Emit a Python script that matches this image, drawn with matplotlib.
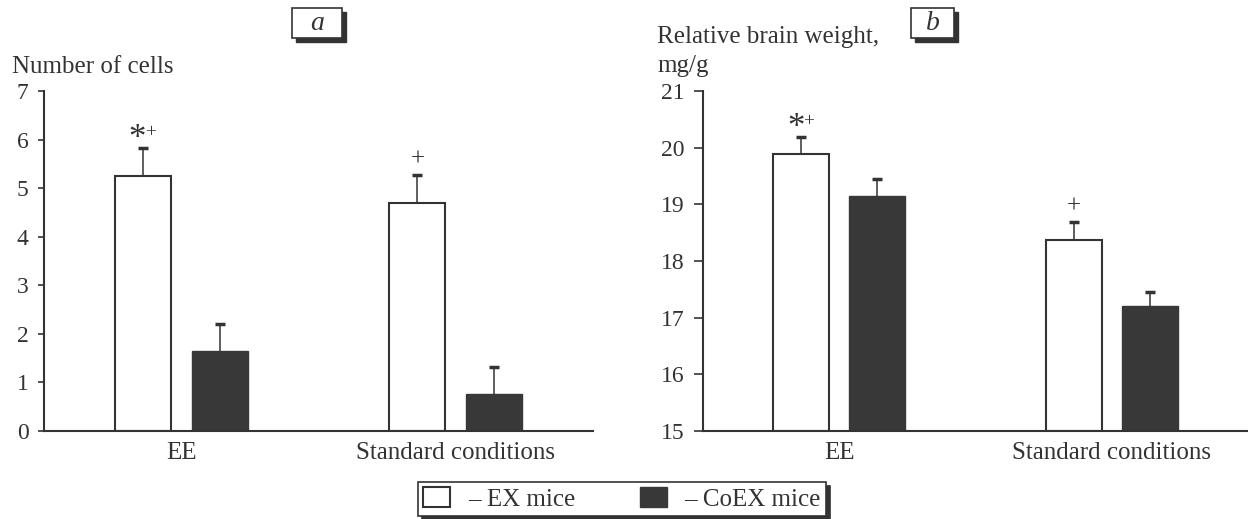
import numpy as np
import matplotlib
matplotlib.use("Agg")
import matplotlib.pyplot as plt
from matplotlib.patches import Rectangle

plt.rcParams['font.family'] = ['Liberation Serif', 'DejaVu Serif']

groups = ['EE', 'Standard conditions']
series = ['– EX mice', '– CoEX mice']

cells_ex = [5.26, 4.69]
cells_ex_err = [0.57, 0.59]
cells_coex = [1.65, 0.76]
cells_coex_err = [0.56, 0.56]
cells_marks_ex = ['*+', '+']

brain_ex = [19.88, 18.37]
brain_ex_err = [0.31, 0.32]
brain_coex = [19.15, 17.21]
brain_coex_err = [0.30, 0.24]
brain_marks_ex = ['*+', '+']

ink = '#333333'
dark = '#383838'
W, H = 1248, 519

fig = plt.figure(figsize=(W / 100, H / 100), dpi=100)


def px(x0, y0, x1, y1):
    # pixel box (top-left origin) -> figure fraction rect
    return [x0 / W, 1 - y1 / H, (x1 - x0) / W, (y1 - y0) / H]


def panel(rect, ex, ex_err, coex, coex_err, marks, ylim, ticks, ticklen):
    ax = fig.add_axes(rect)
    x = np.arange(len(groups))
    off, w = 0.14, 0.205
    ax.errorbar(x - off, ex, yerr=ex_err, fmt='none', ecolor=ink,
                elinewidth=1.1, capsize=3.5, capthick=2.5, zorder=1)
    ax.errorbar(x + off, coex, yerr=coex_err, fmt='none', ecolor=ink,
                elinewidth=1.1, capsize=3.5, capthick=2.5, zorder=1)
    b1 = ax.bar(x - off, np.array(ex) - ylim[0], w, bottom=ylim[0],
                color='white', edgecolor=ink, linewidth=1.5, zorder=2)
    b2 = ax.bar(x + off, np.array(coex) - ylim[0], w, bottom=ylim[0],
                color=dark, edgecolor=dark, linewidth=1.0, zorder=2)
    for xi, top, m in zip(x - off, np.array(ex) + np.array(ex_err), marks):
        if m.startswith('*'):
            ax.annotate('*', (xi, top), xytext=(-4, -6), textcoords='offset points',
                        ha='center', va='bottom', fontsize=25, color=ink)
            ax.annotate('+', (xi, top), xytext=(5.5, 5), textcoords='offset points',
                        ha='center', va='bottom', fontsize=14, color=ink)
        else:
            ax.annotate('+', (xi, top), xytext=(0, 3), textcoords='offset points',
                        ha='center', va='bottom', fontsize=18, color=ink)
    ax.set_xlim(-0.5, 1.5)
    ax.set_ylim(*ylim)
    ax.set_yticks(ticks)
    ax.set_xticks(x)
    ax.set_xticklabels(groups)
    for s in ['top', 'right']:
        ax.spines[s].set_visible(False)
    for s in ['left', 'bottom']:
        ax.spines[s].set_color(ink)
        ax.spines[s].set_linewidth(1.5)
    ax.tick_params(axis='y', length=ticklen, width=1.2, color=ink, labelcolor=ink,
                   labelsize=17, pad=7)
    ax.tick_params(axis='x', length=0, labelcolor=ink, labelsize=18, pad=8)
    ax.set_facecolor('none')
    return ax, b1, b2


ax1, b1, b2 = panel(px(44, 91, 593, 431), cells_ex, cells_ex_err, cells_coex,
                    cells_coex_err, cells_marks_ex, (0, 7), range(0, 8), 4)
ax2, _, _ = panel(px(703, 91, 1248, 431), brain_ex, brain_ex_err, brain_coex,
                  brain_coex_err, brain_marks_ex, (15, 21), range(15, 22), 6.5)

fig.text(12 / W, 1 - 73 / H, 'Number of cells', fontsize=18, color=ink, va='baseline')
fig.text(657 / W, 1 - 43 / H, 'Relative brain weight,', fontsize=18, color=ink,
         va='baseline')
fig.text(657 / W, 1 - 72 / H, 'mg/g', fontsize=18, color=ink, va='baseline')

# panel letters in shadowed boxes
for (x0, x1), letter in [((292, 342), 'a'), ((911, 954), 'b')]:
    fig.patches.append(Rectangle(px(x0 + 4, 12, x1 + 4, 42)[:2], (x1 - x0) / W, 30 / H,
                                 transform=fig.transFigure, color=ink, zorder=1))
    fig.patches.append(Rectangle(px(x0, 8, x1, 38)[:2], (x1 - x0) / W, 30 / H,
                                 transform=fig.transFigure, facecolor='white',
                                 edgecolor=ink, linewidth=1.2, zorder=2))
    fig.text((x0 + x1) / 2 / W, 1 - 23 / H, letter, fontsize=20, style='italic',
             color=ink, ha='center', va='center', zorder=3)

leg = fig.legend([b1, b2], series, ncol=2, loc='center',
                 bbox_to_anchor=(622 / W, 1 - 499 / H), fontsize=18,
                 frameon=True, fancybox=False, edgecolor=ink, framealpha=1,
                 shadow={'ox': 3, 'oy': -3, 'color': ink, 'alpha': 1},
                 handlelength=1.08, handleheight=0.84, handletextpad=0.7,
                 columnspacing=2.6, borderpad=0.2, borderaxespad=0)
leg.get_frame().set_linewidth(1.2)
for t in leg.get_texts():
    t.set_color(ink)

fig.savefig('out.png', dpi=100)
